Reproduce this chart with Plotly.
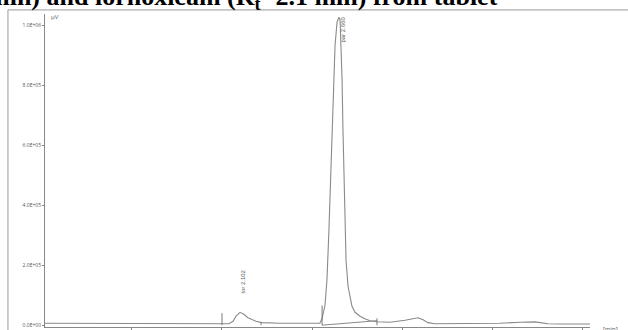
import plotly.graph_objects as go

# chromatogram trace (retention time in min, signal in µV)
time_min = [1.017, 1.600, 2.000, 2.039, 2.061, 2.078, 2.100, 2.122, 2.144, 2.167,
            2.189, 2.222, 2.322, 2.544, 2.556, 2.572, 2.583, 2.594, 2.606, 2.617,
            2.628, 2.639, 2.650, 2.656, 2.661, 2.667, 2.672, 2.678, 2.683, 2.689,
            2.700, 2.711, 2.722, 2.739, 2.767, 2.794, 2.822, 2.861, 2.933, 3.017,
            3.056, 3.089, 3.117, 3.144, 3.183, 3.239, 3.544, 3.656, 3.739, 3.767,
            3.811, 3.878, 4.044]
signal_uv = [6500, 6500, 6500, 5000, 13000, 30000, 43000, 36500, 25000, 18000,
             13000, 8500, 6500, 6500, 23000, 66000, 150000, 316000, 550000, 783000,
             933000, 1010000, 1026000, 1016000, 950000, 816000, 650000, 483000, 350000, 216000,
             130000, 90000, 63000, 43000, 30000, 21500, 15000, 11500, 10000, 16500,
             21500, 25000, 18000, 8500, 5000, 5000, 6500, 10000, 11000, 8500,
             5000, 4000, 4000]

# integration events
event_times = [2.000, 2.217, 2.556, 2.861]
event_top = [40000, 10000, 66000, 23000]
event_bottom = [0, 0, 0, 0]
base_t = [2.556, 2.861]
base_v = [0, 15000]

peak_names = ["lor 2.102", "par 2.660"]
peak_label_t = [2.117, 2.672]
peak_label_v = [146000, 985000]

y_ticks = [0, 200000, 400000, 600000, 800000, 1000000]
y_tick_text = ["0.0E+00", "2.0E+05", "4.0E+05", "6.0E+05", "8.0E+05", "1.0E+06"]
x_ticks = [1.5, 2.0, 2.5, 3.0, 3.5, 4.0]
x_tick_text = ["1.50", "2.00", "2.50", "3.00", "3.50", "4.00"]

line_col = "#8a8a8a"
fig = go.Figure()
fig.add_trace(go.Scatter(x=time_min, y=signal_uv, mode="lines",
                         line=dict(color=line_col, width=1.1), showlegend=False,
                         hoverinfo="skip"))
fig.add_trace(go.Scatter(x=base_t, y=base_v, mode="lines",
                         line=dict(color=line_col, width=1), showlegend=False))
for t, a, b in zip(event_times, event_top, event_bottom):
    fig.add_trace(go.Scatter(x=[t, t], y=[b, a], mode="lines",
                             line=dict(color="#777777", width=1), showlegend=False))
for name, t, v in zip(peak_names, peak_label_t, peak_label_v):
    fig.add_annotation(x=t, y=v, xref="x", yref="y", text=name, showarrow=False,
                       textangle=-90, font=dict(size=6, color="#555555",
                                                family="Liberation Sans"))

fig.add_annotation(xref="paper", yref="paper", x=-0.108, y=1.052, xanchor="left",
                   yanchor="middle",
                   text="<b>min) and lornoxicam (R<sub>t</sub>=2.1 min) from tablet</b>",
                   showarrow=False,
                   font=dict(size=26, family="Liberation Serif", color="#000000"))
fig.add_annotation(xref="paper", yref="paper", x=0.008, y=1.008, xanchor="left",
                   yanchor="top", text="µV", showarrow=False,
                   font=dict(size=6, color="#555555"))
fig.add_annotation(xref="paper", yref="paper", x=1.02, y=-0.005, xanchor="left",
                   yanchor="middle", text="[min]", showarrow=False,
                   font=dict(size=6, color="#555555"))

# outer frame lines
fig.add_shape(type="line", xref="paper", yref="paper", x0=-0.068, x1=1.1,
              y0=1.013, y1=1.013, line=dict(color="#999999", width=1))
fig.add_shape(type="line", xref="paper", yref="paper", x0=-0.068, x1=-0.068,
              y0=-0.1, y1=1.013, line=dict(color="#999999", width=1))

fig.update_layout(
    width=628, height=330, paper_bgcolor="white", plot_bgcolor="white",
    margin=dict(l=45, r=38, t=14, b=3, autoexpand=False),
    xaxis=dict(range=[1.017, 4.044], showgrid=False, zeroline=False,
               showline=True, linecolor="#888888", linewidth=1, automargin=False,
               ticks="outside", ticklen=2, tickcolor="#888888",
               tickvals=x_ticks, ticktext=x_tick_text,
               tickfont=dict(size=5, color="#555555")),
    yaxis=dict(range=[-6000, 1037000], showgrid=False, zeroline=False,
               showline=True, linecolor="#888888", linewidth=1, automargin=False,
               ticks="outside", ticklen=2, tickcolor="#888888",
               tickvals=y_ticks, ticktext=y_tick_text,
               tickfont=dict(size=5, color="#555555")),
)
fig.write_html("out.html", config={"displayModeBar": False},
               post_script="document.body.style.margin='0';"
                           "document.body.style.overflow='hidden';")
